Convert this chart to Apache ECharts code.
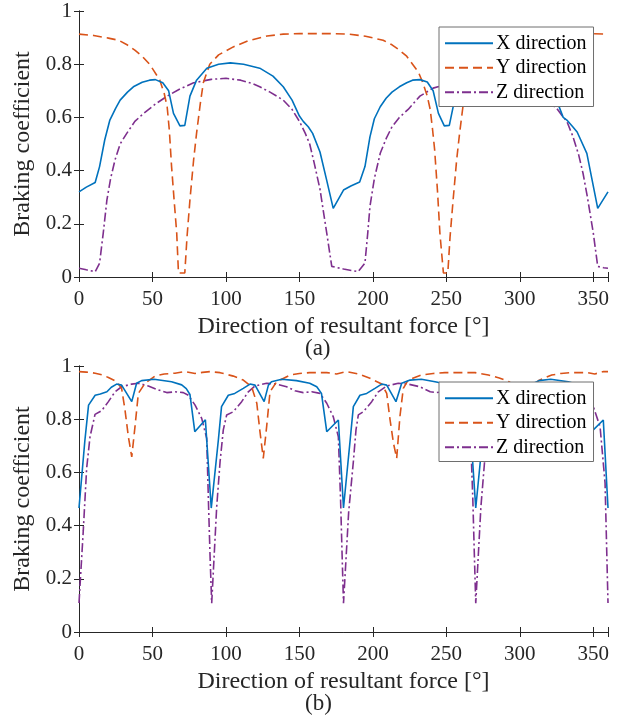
<!DOCTYPE html>
<html>
<head>
<meta charset="utf-8">
<script src="https://cdn.jsdelivr.net/npm/echarts@6/dist/echarts.min.js"></script>
<style>
  html, body { margin: 0; padding: 0; background: #fff; }
  #chart { width: 622px; height: 717px; }
</style>
</head>
<body>
<div id="chart"></div>
<script>
// (a) top panel
const topAngleX = [0, 5, 11, 14, 17.5, 21, 25, 28, 33, 37, 43, 48, 52, 57, 61, 64.3, 68.7, 72, 75.5, 80,
  87, 95, 103, 112, 123, 132, 139, 145, 150, 152.6, 156, 159, 164, 168.5, 173, 180, 185, 191, 194.6, 198,
  201, 205, 209, 213, 218, 223, 227, 232, 237, 241, 244.6, 248.6, 252, 255, 260, 267, 275, 283, 292, 303,
  312, 319, 325, 329.5, 332, 336, 339, 345.6, 349, 353, 360]
const topValueX = [0.32, 0.338, 0.355, 0.415, 0.515, 0.59, 0.635, 0.665, 0.695, 0.715, 0.732, 0.74, 0.742, 0.73, 0.70, 0.615, 0.568, 0.57, 0.68, 0.74,
  0.785, 0.80, 0.805, 0.80, 0.785, 0.755, 0.715, 0.665, 0.605, 0.585, 0.565, 0.54, 0.47, 0.365, 0.258, 0.327, 0.342, 0.357, 0.415, 0.527,
  0.595, 0.64, 0.672, 0.695, 0.715, 0.73, 0.74, 0.742, 0.733, 0.70, 0.615, 0.568, 0.57, 0.65, 0.74, 0.785, 0.80, 0.805, 0.80, 0.785,
  0.755, 0.715, 0.665, 0.60, 0.59, 0.565, 0.545, 0.465, 0.37, 0.258, 0.32]

const topAngleY = [0, 10, 20, 27, 33, 38, 43, 48, 51, 55, 58, 60, 61.5, 63, 65, 66.5, 67.7, 72, 73.5, 75.5,
  78, 80, 82.5, 84.6, 89, 95, 105, 115, 128, 139, 150, 170, 184, 195, 207, 213, 218, 223, 227, 231,
  234, 237, 239, 240.5, 242, 244, 245.6, 248, 251, 252.5, 254.6, 257, 259, 261.5, 264, 268, 274, 284, 294, 308,
  319, 330, 345, 360]
const topValueY = [0.913, 0.908, 0.898, 0.89, 0.872, 0.853, 0.83, 0.80, 0.775, 0.74, 0.69, 0.64, 0.55, 0.415, 0.27, 0.165, 0.015, 0.015, 0.15, 0.29,
  0.44, 0.54, 0.65, 0.73, 0.80, 0.835, 0.865, 0.888, 0.906, 0.913, 0.915, 0.915, 0.913, 0.905, 0.89, 0.873, 0.853, 0.83, 0.80, 0.77,
  0.73, 0.68, 0.63, 0.56, 0.48, 0.32, 0.165, 0.015, 0.015, 0.15, 0.29, 0.44, 0.54, 0.65, 0.73, 0.80, 0.835, 0.865, 0.888, 0.906,
  0.913, 0.915, 0.915, 0.913]

const topAngleZ = [0, 5, 11, 14, 16.5, 19, 21.5, 24.5, 28, 32.5, 38, 44, 52, 60, 68, 78, 90, 100, 110, 118,
  123, 130, 139, 145, 150, 154, 157, 160, 164, 168.6, 172, 180, 190, 194.6, 196.5, 198, 201, 205, 209, 213,
  218, 224, 232, 241, 250, 260, 270, 280, 290, 298, 305, 312, 320, 325, 329, 332, 336, 340, 343, 346,
  350, 353, 357, 360]
const topValueZ = [0.033, 0.027, 0.02, 0.052, 0.165, 0.29, 0.37, 0.44, 0.50, 0.54, 0.585, 0.615, 0.65, 0.68, 0.705, 0.73, 0.743, 0.747, 0.74, 0.727,
  0.715, 0.695, 0.665, 0.63, 0.585, 0.54, 0.50, 0.43, 0.33, 0.165, 0.04, 0.03, 0.02, 0.052, 0.165, 0.265, 0.37, 0.465, 0.52, 0.565,
  0.60, 0.63, 0.68, 0.71, 0.725, 0.738, 0.745, 0.747, 0.74, 0.727, 0.71, 0.685, 0.655, 0.635, 0.605, 0.585, 0.53, 0.46, 0.39, 0.30,
  0.165, 0.04, 0.035, 0.033]

// (b) bottom panel
const botAngleX = [0, 4, 6.5, 11, 14.5, 19, 22, 25.6, 29, 35.9, 39.2, 42.6, 51, 63, 69.9, 73, 75.5, 78.8, 86,
  90, 94.8, 97, 101.6, 106, 111.8, 116.4, 119.8, 126, 128.9, 131, 138, 148, 157, 161.8, 165, 168.6, 176.5,
  180, 184.5, 186.7, 191.2, 195.8, 201.4, 206, 209.4, 215.7, 219.6, 225.3, 233, 242.3, 250, 253, 255.5, 258.8, 266,
  270, 274.5, 277, 281, 285, 290, 294, 296, 299.5, 306, 309.5, 313, 321, 333, 340, 343, 345.5, 350, 356.8, 360]
const botValueX = [0.466, 0.72, 0.853, 0.89, 0.895, 0.903, 0.92, 0.932, 0.928, 0.866, 0.935, 0.945, 0.95, 0.941, 0.929, 0.915, 0.893, 0.753, 0.798,
  0.466, 0.72, 0.847, 0.89, 0.897, 0.916, 0.932, 0.928, 0.866, 0.928, 0.941, 0.95, 0.945, 0.935, 0.922, 0.897, 0.753, 0.797,
  0.466, 0.72, 0.847, 0.89, 0.897, 0.916, 0.932, 0.928, 0.866, 0.935, 0.947, 0.95, 0.941, 0.932, 0.918, 0.895, 0.753, 0.798,
  0.466, 0.72, 0.85, 0.89, 0.896, 0.908, 0.925, 0.932, 0.928, 0.866, 0.935, 0.945, 0.95, 0.941, 0.929, 0.915, 0.893, 0.76, 0.797, 0.466]

const botAngleY = [0, 5, 11, 16, 20, 25.6, 29, 31.3, 33.6, 35.9, 38.1, 40.4, 44.9, 51.7, 58, 65.3, 72, 79, 84,
  89.2, 96, 105, 111.8, 117.5, 121, 123, 125.4, 127.7, 130, 134.5, 143.6, 150, 157, 168.6, 175.3,
  182, 190, 198, 206, 209.4, 211.7, 214, 216.2, 218.4, 220.7, 224, 233, 241, 249, 261,
  269.5, 278.6, 286, 293, 297, 300, 302.5, 305.8, 308, 310, 312.5, 321.7, 328, 335, 346, 351, 357, 360]
const botValueY = [0.979, 0.977, 0.973, 0.966, 0.957, 0.941, 0.916, 0.835, 0.734, 0.658, 0.772, 0.897, 0.935, 0.962, 0.97, 0.973, 0.979, 0.972, 0.976,
  0.979, 0.975, 0.962, 0.947, 0.922, 0.86, 0.76, 0.653, 0.772, 0.903, 0.941, 0.966, 0.972, 0.975, 0.975, 0.97,
  0.979, 0.97, 0.954, 0.932, 0.897, 0.797, 0.71, 0.653, 0.81, 0.916, 0.947, 0.966, 0.972, 0.975, 0.975,
  0.975, 0.966, 0.955, 0.94, 0.915, 0.85, 0.75, 0.655, 0.77, 0.9, 0.945, 0.966, 0.972, 0.975, 0.975, 0.97, 0.979, 0.979]

const botAngleZ = [0, 2.9, 5.2, 7.5, 10.9, 15.4, 20, 24.5, 29, 35.9, 40.4, 47.2, 54, 59.7, 65.3, 71, 74.4, 79, 83.5, 86.9, 88.2, 89.2,
  90.3, 93.7, 96, 98.2, 100.5, 105, 110.7, 115.2, 119.8, 127.7, 134.5, 141.3, 147, 152.6, 158.4, 164, 168.6, 173, 176.5, 178, 179,
  180, 183.5, 186.7, 188.5, 190.1, 193.5, 199.2, 203.7, 209.4, 217.3, 224, 232, 239, 243, 248, 254, 258.6, 263, 266.5, 268, 269,
  270, 273.5, 276, 278.2, 280.5, 285, 290.7, 295.2, 299.8, 307.7, 314.5, 321.3, 327, 332.6, 338.4, 344, 350, 354.6, 358, 360]
const botValueZ = [0.109, 0.38, 0.615, 0.734, 0.818, 0.832, 0.866, 0.903, 0.922, 0.932, 0.935, 0.925, 0.91, 0.90, 0.903, 0.90, 0.89, 0.853, 0.803, 0.728, 0.47, 0.283,
  0.108, 0.47, 0.64, 0.76, 0.816, 0.828, 0.866, 0.903, 0.925, 0.935, 0.932, 0.922, 0.907, 0.90, 0.903, 0.897, 0.86, 0.81, 0.734, 0.5, 0.3,
  0.108, 0.45, 0.64, 0.76, 0.816, 0.828, 0.866, 0.903, 0.925, 0.935, 0.932, 0.922, 0.903, 0.90, 0.903, 0.897, 0.86, 0.81, 0.734, 0.5, 0.3,
  0.108, 0.47, 0.64, 0.76, 0.816, 0.828, 0.866, 0.903, 0.925, 0.935, 0.932, 0.922, 0.907, 0.90, 0.903, 0.897, 0.847, 0.772, 0.56, 0.109]

const seriesNames = ['X direction', 'Y direction', 'Z direction']
const xTicks = [0, 50, 100, 150, 200, 250, 300, 350]
const panelLabels = ['(a)', '(b)']

const FONT = 'Liberation Serif'
const INK = '#262626'
const colors = ['#0072BD', '#D95319', '#7E2F8E']
const dashes = ['solid', [9, 5], [9, 3, 2, 3]]
const gridTops = [11, 366]
const PLOT_H = 266

const zip = function (xs, ys) {
  return xs.map((x, i) => [x, ys[i]])
}

const axisLine = {show: true, lineStyle: {color: INK, width: 1}}
const axisTick = {show: true, inside: true, length: 5, lineStyle: {color: INK}}

const xAxes = []
const yAxes = []
gridTops.forEach((top, g) => {
  // bottom + top x axis
  xAxes.push({
    gridIndex: g, type: 'value', min: 0, max: 360, interval: 50, position: 'bottom',
    axisLine, axisTick, splitLine: {show: false},
    axisLabel: {
      color: INK, fontFamily: FONT, fontSize: 21, margin: 12,
      formatter: v => xTicks.indexOf(v) >= 0 ? String(v) : ''
    },
    name: 'Direction of resultant force [°]', nameLocation: 'middle', nameGap: 38,
    nameTextStyle: {color: INK, fontFamily: FONT, fontSize: 24}
  })
  xAxes.push({
    gridIndex: g, type: 'value', min: 0, max: 360, interval: 50, position: 'top',
    axisLine, axisTick, axisLabel: {show: false}, splitLine: {show: false}
  })
  yAxes.push({
    gridIndex: g, type: 'value', min: 0, max: 1, interval: 0.2, position: 'left',
    axisLine, axisTick, splitLine: {show: false},
    axisLabel: {color: INK, fontFamily: FONT, fontSize: 21, margin: 7},
    name: 'Braking coefficient', nameLocation: 'middle', nameGap: 36,
    nameTextStyle: {color: INK, fontFamily: FONT, fontSize: 24}
  })
  yAxes.push({
    gridIndex: g, type: 'value', min: 0, max: 1, interval: 0.2, position: 'right',
    axisLine, axisTick, axisLabel: {show: false}, splitLine: {show: false}
  })
})

const panels = [
  [zip(topAngleX, topValueX), zip(topAngleY, topValueY), zip(topAngleZ, topValueZ)],
  [zip(botAngleX, botValueX), zip(botAngleY, botValueY), zip(botAngleZ, botValueZ)]
]

const series = []
panels.forEach((lines, g) => {
  lines.forEach((data, i) => {
    series.push({
      name: seriesNames[i],
      type: 'line',
      xAxisIndex: g * 2,
      yAxisIndex: g * 2,
      data: data,
      symbol: 'none',
      color: colors[i],
      lineStyle: {color: colors[i], width: 1.6, type: dashes[i]},
      z: 3 - i
    })
  })
})

const legends = gridTops.map(top => ({
  data: seriesNames,
  orient: 'vertical',
  left: 439,
  top: top + 16,
  padding: [6, 7, 4, 5],
  itemGap: 4,
  itemWidth: 48,
  itemHeight: 14,
  itemStyle: {opacity: 0},
  backgroundColor: '#fff',
  borderColor: '#6e6e6e',
  borderWidth: 1,
  borderRadius: 0,
  selectedMode: false,
  textStyle: {color: '#000', fontFamily: FONT, fontSize: 20, lineHeight: 20.5, padding: [0, 0, 0, -2]}
}))

const chart = echarts.init(document.getElementById('chart'))
chart.setOption({
  animation: false,
  backgroundColor: '#fff',
  grid: gridTops.map(top => ({left: 79, right: 14, top: top, height: PLOT_H})),
  xAxis: xAxes,
  yAxis: yAxes,
  legend: legends,
  series: series,
  graphic: panelLabels.map((txt, g) => ({
    type: 'text',
    left: 305,
    top: gridTops[g] + PLOT_H + 60,
    style: {text: txt, fill: INK, font: '23px "Liberation Serif"'}
  }))
})
</script>
</body>
</html>
